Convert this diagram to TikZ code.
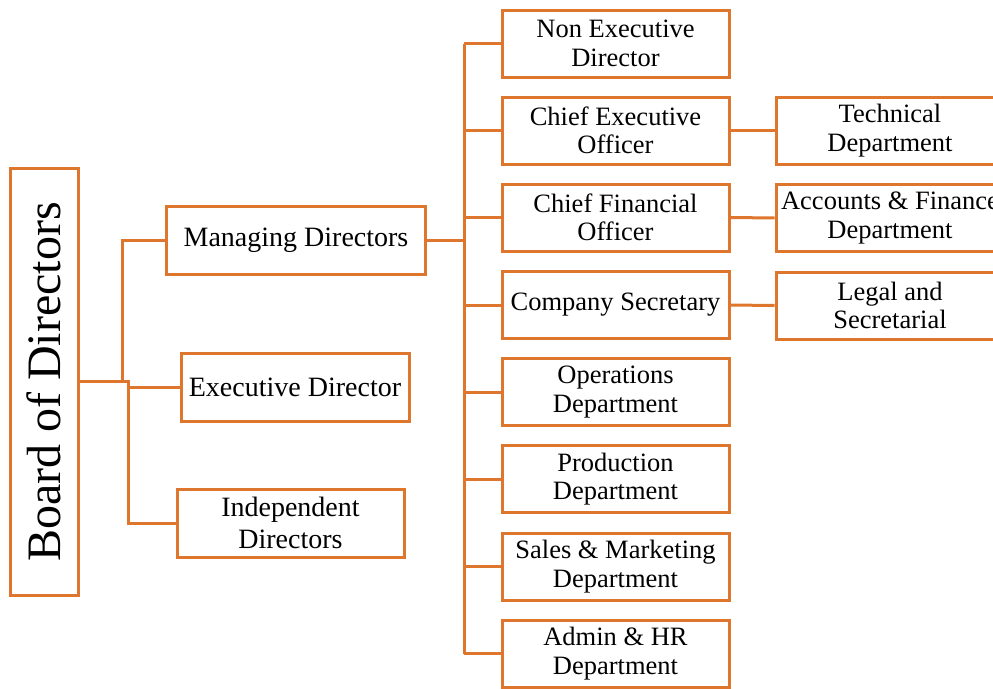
\documentclass[tikz,border=0pt]{standalone}
\usepackage{fontspec}
\setmainfont{Liberation Serif}
\usepackage{graphicx}
\definecolor{org}{RGB}{222,118,46}
\begin{document}
\begin{tikzpicture}[x=1pt,y=-1pt,
  box/.style={draw=org, line width=3pt, fill=white, align=center, inner sep=0pt, text=black},
  midbox/.style={box, minimum width=227pt, minimum height=67pt, font=\fontsize{26.5}{28.5}\selectfont},
  leftbox/.style={box, minimum height=68pt, font=\fontsize{28}{31.5}\selectfont},
  link/.style={draw=org, line width=3pt}]
\useasboundingbox (0,0) rectangle (993,688);
\clip (0,0) rectangle (993,688);

% Board
\node[box, minimum width=68pt, minimum height=427pt, font=\fontsize{48}{50}\selectfont] (board) at (44,382) {\rotatebox{90}{Board of Directors}};

% Left column
\node[leftbox, minimum width=259pt] (md) at (296,240) {Managing Directors};
\node[leftbox, minimum width=228pt] (ed) at (295,387.5) {Executive Director};
\node[leftbox, minimum width=227pt] (id) at (290.5,523) {Independent\\Directors};

% Middle column
\node[midbox] (n1) at (615.5,43.5) {Non Executive\\Director};
\node[midbox] (n2) at (615.5,130.5) {Chief Executive\\Officer};
\node[midbox] (n3) at (615.5,217.5) {Chief Financial\\Officer};
\node[midbox] (n4) at (615.5,305) {Company Secretary};
\node[midbox] (n5) at (615.5,392) {Operations\\Department};
\node[midbox] (n6) at (615.5,479) {Production\\Department};
\node[midbox] (n7) at (615.5,566.5) {Sales \& Marketing\\Department};
\node[midbox] (n8) at (615.5,653.5) {Admin \& HR\\Department};

% Right column
\node[midbox, minimum width=228pt] (r1) at (890,130.5) {Technical\\Department};
\node[midbox, minimum width=228pt] (r2) at (890,218) {Accounts \& Finance\\Department};
\node[midbox, minimum width=228pt] (r3) at (890,305.5) {Legal and\\Secretarial};

% Connectors from board
\coordinate (j1) at (122,381);
\coordinate (j2) at (128,381);
\draw[link] (board.east |- j1) -- (j1) |- (md.west);
\draw[link] (j1) -- (j2) |- (ed.west);
\draw[link] (j2) |- (id.west);

% Bus from managing directors
\coordinate (bus) at (464,240);
\draw[link] (md.east) -- (bus);
\draw[link] (bus |- n1.west) -- (bus |- n8.west);
\foreach \n in {n1,n2,n3,n4,n5,n6,n7,n8}{
  \draw[link] (bus |- \n.west) -- (\n.west);
}

% Right connectors
\draw[link] (n2.east) -- (r1.west);
\draw[link] (n3.east) -- (r2.west);
\draw[link] (n4.east) -- (r3.west);
\end{tikzpicture}
\end{document}
